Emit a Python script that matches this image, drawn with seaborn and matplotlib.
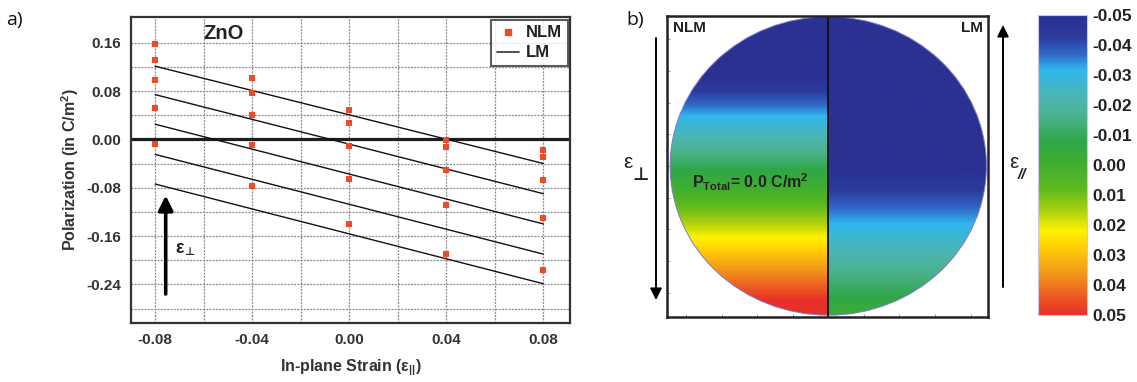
import numpy as np
import pandas as pd
import matplotlib
matplotlib.use("Agg")
import matplotlib.pyplot as plt
import matplotlib.cm as cm
import seaborn as sns
from matplotlib.colors import LinearSegmentedColormap, Normalize
from matplotlib.patches import Circle
from matplotlib.lines import Line2D

# ---------------- data: panel a (ZnO polarization vs in-plane strain) ----------------
strain_ticks = [-0.08, -0.04, 0.00, 0.04, 0.08]
polarization_ticks = [-0.24, -0.16, -0.08, 0.00, 0.08, 0.16]

# non-linear model (NLM) points
nlm_strain = [-0.08, -0.08, -0.08, -0.08, -0.08,
              -0.04, -0.04, -0.04, -0.04, -0.04,
              0.00, 0.00, 0.00, 0.00, 0.00,
              0.04, 0.04, 0.04, 0.04, 0.04,
              0.08, 0.08, 0.08, 0.08, 0.08]
nlm_polarization = [0.158, 0.132, 0.098, 0.052, -0.008,
                    0.102, 0.077, 0.041, -0.009, -0.077,
                    0.048, 0.027, -0.011, -0.066, -0.140,
                    -0.001, -0.013, -0.051, -0.108, -0.189,
                    -0.018, -0.030, -0.068, -0.130, -0.216]

# linear model (LM) lines: value at strain -0.08 and at strain +0.08
lm_strain_ends = [-0.08, 0.08]
lm_start = [0.121, 0.074, 0.025, -0.025, -0.074]
lm_end = [-0.040, -0.090, -0.140, -0.190, -0.239]

# ---------------- data: panel b (polarization field across the disk) ----------------
nlm_field_top, nlm_field_bottom = -0.076, 0.056
lm_field_top, lm_field_bottom = -0.100, -0.002
cbar_ticks = [-0.05, -0.04, -0.03, -0.02, -0.01, 0.00, 0.01, 0.02, 0.03, 0.04, 0.05]
cbar_labels = ["-0.05", "-0.04", "-0.03", "-0.02", "-0.01", "0.00",
               "0.01", "0.02", "0.03", "0.04", "0.05"]

# colour stops of the polarization scale
cmap_values = [-0.05, -0.043, -0.037, -0.032, -0.023, -0.016, -0.008, 0.0,
               0.008, 0.015, 0.022, 0.028, 0.036, 0.044, 0.05]
cmap_colors = ["#2B3192", "#2C3A9E", "#3168C8", "#2EB6EE", "#4BB6B4", "#4BB28C",
               "#2FA748", "#40AF2E", "#5EBA1E", "#A8D00F", "#FFF200", "#FFCB08",
               "#F39A18", "#EC5A21", "#E8302A"]

# ---------------- style ----------------
sns.set_theme(style="white")
plt.rcParams["font.family"] = ["Liberation Sans", "DejaVu Sans"]
plt.rcParams["font.weight"] = "bold"
plt.rcParams["axes.labelweight"] = "bold"
plt.rcParams["mathtext.fontset"] = "custom"
plt.rcParams["mathtext.rm"] = "Liberation Sans:bold"
plt.rcParams["mathtext.bf"] = "Liberation Sans:bold"
plt.rcParams["mathtext.it"] = "Liberation Sans:bold:italic"

W, H = 1137, 382
fig = plt.figure(figsize=(W / 100, H / 100), dpi=100)
fig.patch.set_facecolor("white")

ORANGE = "#EE4B22"
GRID = dict(color="#8c8c8c", linestyle=(0, (1.6, 1.0)), linewidth=0.9)

# ================= panel a =================
ax = fig.add_axes([131 / W, 1 - 323 / H, 439 / W, 306 / H])

nlm_df = pd.DataFrame({"strain": nlm_strain, "P": nlm_polarization})
lm_rows = []
for i, (p0, p1) in enumerate(zip(lm_start, lm_end)):
    lm_rows.append({"branch": i, "strain": lm_strain_ends[0], "P": p0})
    lm_rows.append({"branch": i, "strain": lm_strain_ends[1], "P": p1})
lm_df = pd.DataFrame(lm_rows)

ax.set_xlim(-0.09, 0.091)
ax.set_ylim(-0.304, 0.2025)
ax.set_xticks(strain_ticks)
ax.set_xticks([-0.06, -0.02, 0.02, 0.06], minor=True)
ax.set_yticks(polarization_ticks)
ax.set_yticks([-0.28, -0.20, -0.12, -0.04, 0.04, 0.12], minor=True)
ax.set_xticklabels([f"{v:.2f}" for v in strain_ticks])
ax.set_yticklabels([f"{v:.2f}" for v in polarization_ticks])
ax.grid(True, which="both", **GRID)
ax.set_axisbelow(True)

ax.axhline(0, color="#1e1e1e", linewidth=2.3, zorder=2)

sns.lineplot(data=lm_df, x="strain", y="P", units="branch", estimator=None,
             color="#111111", linewidth=1.0, legend=False, ax=ax, zorder=3)
sns.scatterplot(data=nlm_df, x="strain", y="P", marker="s", color=ORANGE,
                s=24, linewidth=0, legend=False, ax=ax, zorder=4)

ax.set_xlabel("In-plane Strain (ε$_{||}$)", fontsize=11.5, color="#333333", labelpad=8)
ax.set_ylabel("Polarization (in C/m$^{2}$)", fontsize=11.5, color="#333333", labelpad=4)
ax.tick_params(axis="both", which="major", direction="in", length=4, width=1,
               labelsize=11, labelcolor="#333333", color="#333333", pad=7)
ax.tick_params(axis="both", which="minor", direction="in", length=2.5, width=1,
               color="#333333")
for sp in ax.spines.values():
    sp.set_color("#333333")
    sp.set_linewidth(1.6)

ax.text(-0.052, 0.176, "ZnO", fontsize=14.5, fontweight="bold", color="#222222",
        ha="center", va="center")

# strain direction arrow
ax.annotate("", xy=(-0.0757, -0.093), xytext=(-0.0757, -0.256),
            arrowprops=dict(arrowstyle="-|>", color="black", lw=2.6,
                            mutation_scale=22, shrinkA=0, shrinkB=0), zorder=5)
ax.text(-0.0715, -0.180, "ε", fontsize=13, color="#222222", ha="left", va="center")
ax.text(-0.0683, -0.187, "⊥", fontsize=8, color="#222222", ha="left", va="center",
        family=["DejaVu Sans"])

handles = [Line2D([], [], marker="s", color=ORANGE, linestyle="none", markersize=5),
           Line2D([], [], color="#333333", linewidth=1.2)]
leg = ax.legend(handles, ["NLM", "LM"], loc="upper right", fontsize=12,
                frameon=True, fancybox=False, borderaxespad=0.15,
                handlelength=1.3, handletextpad=0.4, borderpad=0.35,
                labelspacing=0.3)
leg.get_frame().set_edgecolor("#333333")
leg.get_frame().set_linewidth(1.5)
for t in leg.get_texts():
    t.set_color("#222222")
    t.set_fontweight("bold")

# ================= panel b =================
cmap = LinearSegmentedColormap.from_list(
    "pol", [((v - cmap_values[0]) / (cmap_values[-1] - cmap_values[0]), c)
            for v, c in zip(cmap_values, cmap_colors)])
norm = Normalize(vmin=cbar_ticks[0], vmax=cbar_ticks[-1])

axb = fig.add_axes([667 / W, 1 - 317 / H, 321 / W, 301 / H])
axb.set_xlim(-1.02, 1.01)
axb.set_ylim(-1.012, 1.005)

rows = np.linspace(0.0, 1.0, 400)[:, None]
left_field = nlm_field_top + (nlm_field_bottom - nlm_field_top) * rows
right_field = lm_field_top + (lm_field_bottom - lm_field_top) * rows

disk = Circle((0, 0), 1.0, transform=axb.transData)
for field, ext in ((left_field, [-1, 0, -1, 1]), (right_field, [0, 1, -1, 1])):
    im = axb.imshow(np.repeat(field, 2, axis=1), extent=ext, cmap=cmap, norm=norm,
                    aspect="auto", origin="upper", interpolation="bilinear")
    im.set_clip_path(disk)
axb.add_patch(Circle((0, 0), 1.0, fill=False, edgecolor="#7F7BCB", linewidth=0.7))
axb.axvline(0, color="#111111", linewidth=1.3)

axb.set_xticks(np.linspace(-0.9, 0.9, 9))
axb.set_yticks(np.linspace(-0.85, 0.85, 9))
axb.set_xticklabels([])
axb.set_yticklabels([])
axb.tick_params(direction="in", length=2, width=0.6, color="#888888",
                left=True, bottom=True)
for sp in axb.spines.values():
    sp.set_color("#222222")
    sp.set_linewidth(1.8)

axb.text(-0.985, 0.925, "NLM", fontsize=11, fontweight="bold", color="#222222",
         ha="left", va="center")
axb.text(0.975, 0.925, "LM", fontsize=11, fontweight="bold", color="#222222",
         ha="right", va="center")
axb.text(-0.49, -0.11, "P$_{\\mathrm{Total}}$= 0.0 C/m$^{2}$", fontsize=11.5,
         fontweight="bold", color="#222222", ha="center", va="center")

# strain direction arrows beside the disk
axb.annotate("", xy=(656, H - 300), xytext=(656, H - 38), xycoords="figure pixels",
             textcoords="figure pixels", annotation_clip=False,
             arrowprops=dict(arrowstyle="-|>", color="black", lw=1.4,
                             mutation_scale=17, shrinkA=0, shrinkB=0))
axb.annotate("", xy=(1003, H - 25), xytext=(1003, H - 287), xycoords="figure pixels",
             textcoords="figure pixels", annotation_clip=False,
             arrowprops=dict(arrowstyle="-|>", color="black", lw=1.4,
                             mutation_scale=17, shrinkA=0, shrinkB=0))
fig.text(623 / W, 1 - 163 / H, "ε", fontsize=15, fontweight="normal",
         color="#222222", ha="left", va="center")
fig.text(632 / W, 1 - 175 / H, "⊥", fontsize=13, fontweight="bold",
         color="#222222", ha="left", va="center", family=["DejaVu Sans"])
fig.text(1009 / W, 1 - 163 / H, "ε", fontsize=15, fontweight="normal",
         color="#222222", ha="left", va="center")
fig.text(1018 / W, 1 - 175 / H, "//", fontsize=11, fontweight="bold",
         style="italic", color="#222222", ha="left", va="center")

# colour bar
cax = fig.add_axes([1038 / W, 1 - 315 / H, 49 / W, 300 / H])
cb = fig.colorbar(cm.ScalarMappable(norm=norm, cmap=cmap), cax=cax, ticks=cbar_ticks)
cax.invert_yaxis()
cb.set_ticklabels(cbar_labels)
cb.outline.set_edgecolor("#C9C6EE")
cb.outline.set_linewidth(0.8)
cax.tick_params(length=0, pad=4, labelsize=12.5, labelcolor="#222222")
for t in cax.get_yticklabels():
    t.set_fontweight("bold")

# panel letters
fig.text(6 / W, 1 - 20 / H, "a)", fontsize=14, fontweight="normal",
         family=["Open Sans", "DejaVu Sans"], color="#111111", ha="left", va="center")
fig.text(626 / W, 1 - 20 / H, "b)", fontsize=14, fontweight="normal",
         family=["Open Sans", "DejaVu Sans"], color="#111111", ha="left", va="center")

fig.savefig("out.png", dpi=100, facecolor="white")
